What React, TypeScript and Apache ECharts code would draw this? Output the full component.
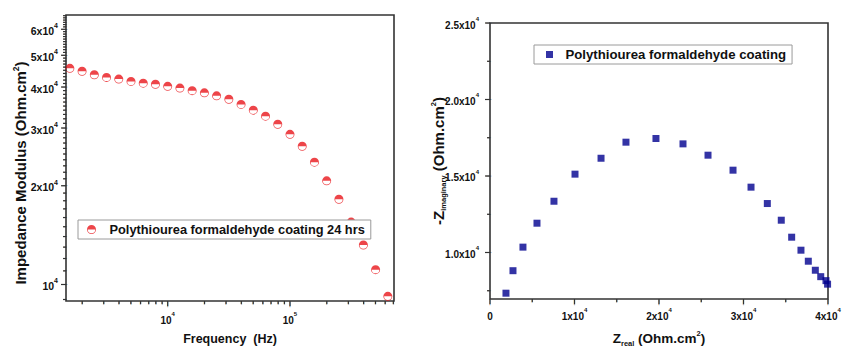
import React, { useEffect, useRef } from 'react';
import * as echarts from 'echarts';

const FONT = 'Liberation Sans, Arial, Helvetica, sans-serif';

const bodeSeriesName = 'Polythiourea formaldehyde coating 24 hrs';
const nyquistSeriesName = 'Polythiourea formaldehyde coating';

// Bode plot: |Z| vs frequency (10 points per decade)
const frequencyHz = [
  1585, 1995, 2512, 3162, 3981, 5012, 6310, 7943, 10000,
  12589, 15849, 19953, 25119, 31623, 39811, 50119, 63096, 79433, 100000,
  125893, 158489, 199526, 251189, 316228, 398107, 501187, 630957,
];
const impedanceModulus = [
  45600, 44700, 43600, 42800, 42300, 41600, 41100, 40800, 40200,
  39700, 39000, 38400, 37600, 36700, 35400, 34000, 32600, 30800, 28700,
  26400, 23600, 20700, 18200, 15500, 13200, 11100, 9200,
];

// Nyquist plot
const zReal = [
  1890, 2720, 3900, 5560, 7570, 10060, 13140, 16090, 19640, 22840, 25800,
  28760, 30890, 32820, 34470, 35700, 36800, 37670, 38500, 39140, 39760, 39950,
];
const zImaginary = [
  7340, 8810, 10350, 11915, 13350, 15120, 16160, 17210, 17450, 17100, 16360,
  15380, 14270, 13200, 12110, 11000, 10150, 9430, 8840, 8420, 8160, 7930,
];

// Axis ranges
const bodeFreqRange = [1474, 708600];
const bodeModulusRange = [8906, 66320];
const nyquistRealRange = [0, 40000];
const nyquistImagRange = [6960, 25000];

// Ticks and tick labels
const bodeXMajorTicks = [10000, 100000];
const bodeXTickLabels = ['10^4', '10^5'];
const bodeXMinorTicks = [
  2000, 3000, 4000, 5000, 6000, 7000, 8000, 9000,
  20000, 30000, 40000, 50000, 60000, 70000, 80000, 90000,
  200000, 300000, 400000, 500000, 600000, 700000,
];
const bodeYMajorTicks = [10000, 20000, 30000, 40000, 50000, 60000];
const bodeYTickLabels = ['10^4', '2x10^4', '3x10^4', '4x10^4', '5x10^4', '6x10^4'];
const bodeYMinorStep = 1000;

const nyquistXMajorTicks = [0, 10000, 20000, 30000, 40000];
const nyquistXTickLabels = ['0', '1x10^4', '2x10^4', '3x10^4', '4x10^4'];
const nyquistXMinorTicks = [5000, 15000, 25000, 35000];
const nyquistYMajorTicks = [10000, 15000, 20000, 25000];
const nyquistYTickLabels = ['1.0x10^4', '1.5x10^4', '2.0x10^4', '2.5x10^4'];
const nyquistYMinorTicks = [7500, 12500, 17500, 22500];

const HALF_CIRCLE =
  'path://M0,-10A10,10 0 1,1 0,10A10,10 0 1,1 0,-10Z' +
  'M0,-8.3A8.3,8.3 0 1,0 0,8.3A8.3,8.3 0 1,0 0,-8.3Z' +
  'M-10,0A10,10 0 0,1 10,0Z';
const SQUARE = 'path://M0,0L10,0L10,10L0,10Z';

const RED = '#e8161b';
const BLUE = '#00008e';
const INK = '#111';
const FRAME = '#333';
const TICK_W = 1.2;
const MAJOR_LEN = 5;
const MINOR_LEN = 3;

function bodeYMinorTicks() {
  const out: number[] = [];
  for (let v = Math.ceil(bodeModulusRange[0] / bodeYMinorStep) * bodeYMinorStep; v <= bodeModulusRange[1]; v += bodeYMinorStep) {
    if (bodeYMajorTicks.indexOf(v) < 0) out.push(v);
  }
  return out;
}

function richLabel(label: string) {
  const m = label.match(/^(.*)\^(\d+)$/);
  if (!m) return `{m|${label}}`;
  return `{m|${m[1]}}{s|${m[2]}}`;
}

function tickTextEl(x: number, y: number, label: string, align: string, size: number) {
  return {
    type: 'text',
    x,
    y,
    style: {
      text: richLabel(label),
      align,
      verticalAlign: 'middle',
      fill: INK,
      rich: {
        m: { fontSize: size, fontWeight: 'bold', fontFamily: FONT, fill: INK, lineHeight: 14, verticalAlign: 'bottom' },
        s: { fontSize: Math.round(size * 0.62), fontWeight: 'bold', fontFamily: FONT, fill: INK, lineHeight: 6, verticalAlign: 'top' },
      },
    },
  };
}

// tick drawn as a bar glyph centred on the tick's mid point
function tickGlyph(cx: number, cy: number, len: number, horizontal: boolean) {
  return {
    type: 'text',
    x: cx,
    y: cy,
    rotation: horizontal ? Math.PI / 2 : 0,
    scaleY: len / MAJOR_LEN,
    style: {
      text: '|',
      fontSize: 5.2,
      fontWeight: 'bold',
      fontFamily: 'DejaVu Sans',
      fill: FRAME,
      align: 'center',
      verticalAlign: 'middle',
    },
  };
}

function nameRich(main: number, small: number) {
  return {
    t: { fontSize: main, fontWeight: 'bold', fontFamily: FONT, color: INK, lineHeight: 18, verticalAlign: 'middle' },
    b: { fontSize: small, fontWeight: 'bold', fontFamily: FONT, color: INK, lineHeight: 8, verticalAlign: 'bottom' },
    p: { fontSize: small, fontWeight: 'bold', fontFamily: FONT, color: INK, lineHeight: 8, verticalAlign: 'top' },
  };
}

const hiddenAxisParts = {
  axisLine: { show: false },
  axisTick: { show: false },
  axisLabel: { show: false },
  splitLine: { show: false },
};

// custom series drawing outward tick marks (and labels on major ticks) along one axis
function axisTickSeries(
  name: string, gridIdx: number, dir: 'x' | 'y', data: number[][],
  labels: string[], labelSize: number, labelOffset: number,
) {
  return {
    type: 'custom',
    name,
    xAxisIndex: gridIdx,
    yAxisIndex: gridIdx,
    clip: false,
    z: 3,
    data,
    renderItem: (params: any, api: any) => {
      const p = api.coord([api.value(0), api.value(1)]);
      const major = api.value(2) === 1;
      const len = major ? MAJOR_LEN : MINOR_LEN;
      const shape = dir === 'x'
        ? { x: p[0] - TICK_W / 2, y: p[1], width: TICK_W, height: len }
        : { x: p[0] - len, y: p[1] - TICK_W / 2, width: len, height: TICK_W };
      const children: any[] = [
        { type: 'rect', shape, style: { fill: FRAME } },
        dir === 'x'
          ? tickGlyph(p[0], p[1] + len / 2, len, false)
          : tickGlyph(p[0] - len / 2, p[1], len, true),
      ];
      const li = api.value(3);
      if (major && li >= 0 && labels[li] != null) {
        children.push(
          dir === 'x'
            ? tickTextEl(p[0], p[1] + labelOffset, labels[li], 'center', labelSize)
            : tickTextEl(p[0] - labelOffset, p[1], labels[li], 'right', labelSize),
        );
      }
      return { type: 'group', children };
    },
  };
}

function buildOption() {
  const bx = [
    ...bodeXMajorTicks.map((v, i) => [v, bodeModulusRange[0], 1, i]),
    ...bodeXMinorTicks.map((v) => [v, bodeModulusRange[0], 0, -1]),
  ];
  const by = [
    ...bodeYMajorTicks.map((v, i) => [bodeFreqRange[0], v, 1, i]),
    ...bodeYMinorTicks().map((v) => [bodeFreqRange[0], v, 0, -1]),
  ];
  const nx = [
    ...nyquistXMajorTicks.map((v, i) => [v, nyquistImagRange[0], 1, i]),
    ...nyquistXMinorTicks.map((v) => [v, nyquistImagRange[0], 0, -1]),
  ];
  const ny = [
    ...nyquistYMajorTicks.map((v, i) => [nyquistRealRange[0], v, 1, i]),
    ...nyquistYMinorTicks.map((v) => [nyquistRealRange[0], v, 0, -1]),
  ];
  return {
    animation: false,
    backgroundColor: '#fff',
    grid: [
      { left: 66, top: 15, width: 328, height: 286, show: true, borderColor: FRAME, borderWidth: 1.6, outerBoundsMode: 'none', containLabel: false },
      { left: 490, top: 23, width: 338, height: 276, show: true, borderColor: FRAME, borderWidth: 1.6, outerBoundsMode: 'none', containLabel: false },
    ],
    xAxis: [
      {
        type: 'log', logBase: 10, gridIndex: 0,
        min: bodeFreqRange[0], max: bodeFreqRange[1],
        ...hiddenAxisParts,
        name: '{t|Frequency  (Hz)}',
        nameLocation: 'middle', nameGap: 29,
        nameTextStyle: { rich: nameRich(12.5, 7) },
      },
      {
        type: 'value', gridIndex: 1,
        min: nyquistRealRange[0], max: nyquistRealRange[1],
        ...hiddenAxisParts,
        name: '{t|Z}{b|real}{t| (Ohm.cm}{p|2}{t|)}',
        nameLocation: 'middle', nameGap: 30,
        nameTextStyle: { rich: nameRich(13.5, 7.5) },
      },
    ],
    yAxis: [
      {
        type: 'log', logBase: 10, gridIndex: 0,
        min: bodeModulusRange[0], max: bodeModulusRange[1],
        ...hiddenAxisParts,
        name: '{t|Impedance Modulus (Ohm.cm}{p|2}{t|)}',
        nameLocation: 'middle', nameRotate: 90, nameGap: 37,
        nameTextStyle: { rich: nameRich(15, 8.5), padding: [0, 30, 0, 0] },
      },
      {
        type: 'value', gridIndex: 1,
        min: nyquistImagRange[0], max: nyquistImagRange[1],
        ...hiddenAxisParts,
        name: '{t|-Z}{b|imaginary}{t| (Ohm.cm}{p|2}{t|)}',
        nameLocation: 'middle', nameRotate: 90, nameGap: 43,
        nameTextStyle: { rich: nameRich(15, 7.5) },
      },
    ],
    legend: [
      {
        data: [{ name: bodeSeriesName, icon: HALF_CIRCLE }],
        left: 78, top: 220,
        padding: [3, 6, 3, 9],
        itemWidth: 26, itemHeight: 9,
        symbolKeepAspect: true,
        selectedMode: false,
        backgroundColor: '#fff',
        borderColor: '#9a9a9a', borderWidth: 1,
        textStyle: { fontSize: 12.8, fontWeight: 'bold', color: INK, fontFamily: FONT },
      },
      {
        data: [{ name: nyquistSeriesName, icon: SQUARE }],
        left: 534, top: 45,
        padding: [3, 6, 3, 12],
        itemWidth: 22, itemHeight: 7,
        symbolKeepAspect: true,
        selectedMode: false,
        backgroundColor: '#fff',
        borderColor: '#9a9a9a', borderWidth: 1,
        textStyle: { fontSize: 13.2, fontWeight: 'bold', color: INK, fontFamily: FONT },
      },
    ],
    series: [
      {
        type: 'scatter',
        name: bodeSeriesName,
        xAxisIndex: 0, yAxisIndex: 0,
        data: frequencyHz.map((f, i) => [f, impedanceModulus[i]]),
        symbol: HALF_CIRCLE,
        symbolSize: 9,
        itemStyle: { color: RED },
      },
      {
        type: 'scatter',
        name: nyquistSeriesName,
        xAxisIndex: 1, yAxisIndex: 1,
        data: zReal.map((x, i) => [x, zImaginary[i]]),
        symbol: 'rect',
        symbolSize: 7,
        itemStyle: { color: BLUE },
      },
      axisTickSeries('bode-x-axis', 0, 'x', bx, bodeXTickLabels, 10, 17),
      axisTickSeries('bode-y-axis', 0, 'y', by, bodeYTickLabels, 10.5, 8),
      axisTickSeries('nyquist-x-axis', 1, 'x', nx, nyquistXTickLabels, 10, 15),
      axisTickSeries('nyquist-y-axis', 1, 'y', ny, nyquistYTickLabels, 10, 11),
    ],
  };
}

export default function App() {
  const ref = useRef<HTMLDivElement>(null);
  useEffect(() => {
    const el = ref.current;
    if (!el) return;
    const chart = echarts.init(el, null, { renderer: 'svg' });
    chart.setOption(buildOption() as any);
    return () => chart.dispose();
  }, []);
  return <div ref={ref} style={{ position: 'absolute', left: 0, top: 0, width: 842, height: 346 }} />;
}
